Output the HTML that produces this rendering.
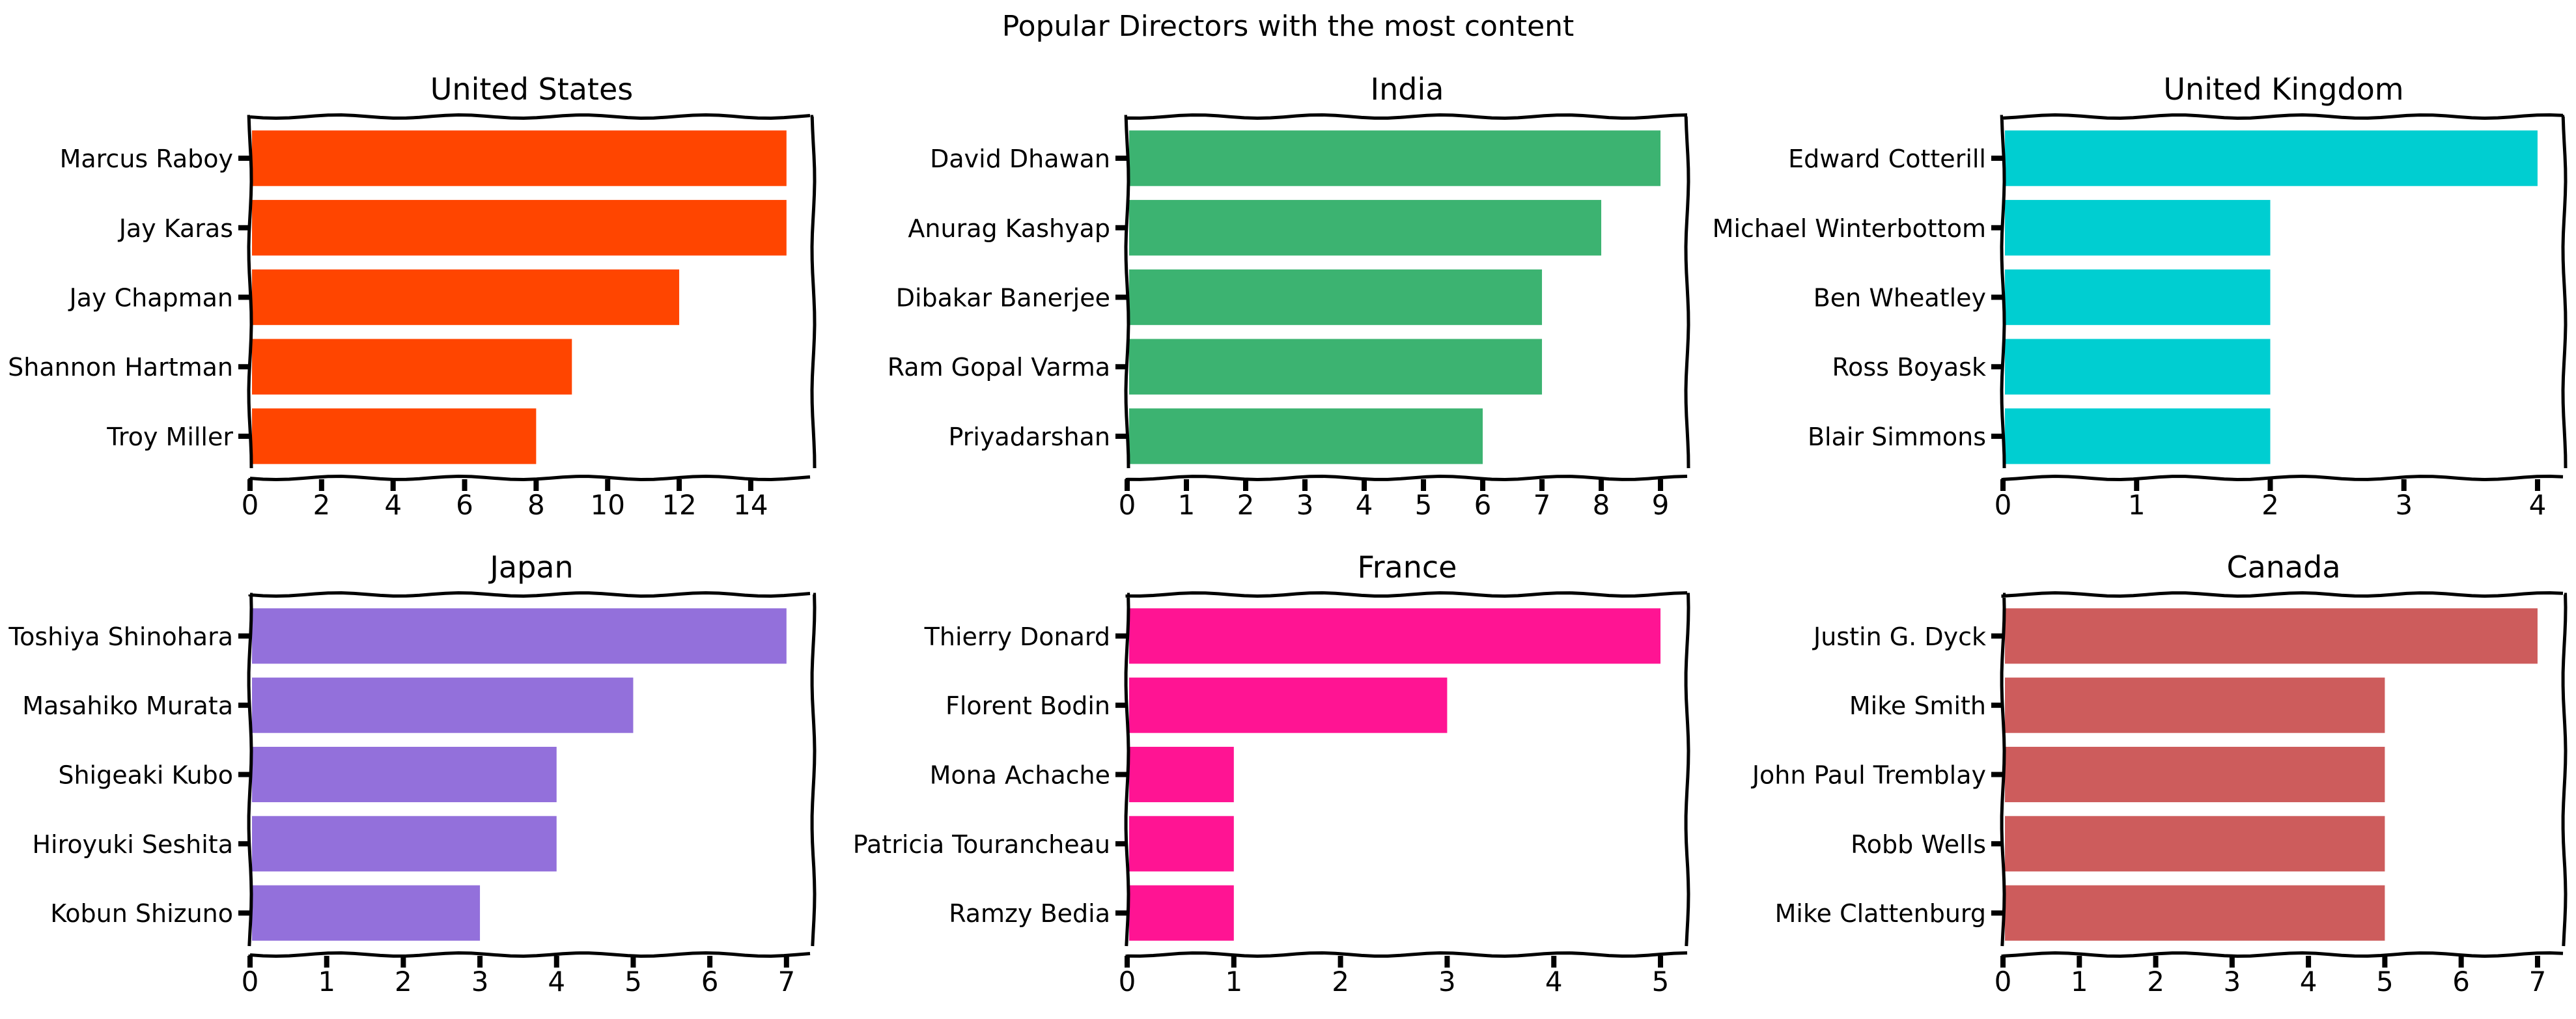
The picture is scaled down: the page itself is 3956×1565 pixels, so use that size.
<!DOCTYPE html>
<html><head><meta charset="utf-8"><style>
body{margin:0;background:#fff;}
svg{display:block;font-family:"DejaVu Sans","Liberation Sans",sans-serif;}
</style></head><body>
<svg id="chart" width="3956" height="1565" viewBox="0 0 3956 1565">
<text x="1978" y="55" text-anchor="middle" font-size="44">Popular Directors with the most content</text>
</svg>
<script>
const titles = ["United States","India","United Kingdom","Japan","France","Canada"];
const colors = ["#FF4500","#3CB371","#00CED1","#9370DB","#FF1493","#CD5C5C"];
const namesUS = ["Marcus Raboy","Jay Karas","Jay Chapman","Shannon Hartman","Troy Miller"];
const valuesUS = [15,15,12,9,8];
const namesIN = ["David Dhawan","Anurag Kashyap","Dibakar Banerjee","Ram Gopal Varma","Priyadarshan"];
const valuesIN = [9,8,7,7,6];
const namesUK = ["Edward Cotterill","Michael Winterbottom","Ben Wheatley","Ross Boyask","Blair Simmons"];
const valuesUK = [4,2,2,2,2];
const namesJP = ["Toshiya Shinohara","Masahiko Murata","Shigeaki Kubo","Hiroyuki Seshita","Kobun Shizuno"];
const valuesJP = [7,5,4,4,3];
const namesFR = ["Thierry Donard","Florent Bodin","Mona Achache","Patricia Tourancheau","Ramzy Bedia"];
const valuesFR = [5,3,1,1,1];
const namesCA = ["Justin G. Dyck","Mike Smith","John Paul Tremblay","Robb Wells","Mike Clattenburg"];
const valuesCA = [7,5,5,5,5];
const tickStepsX = [2,1,1,1,1,1];

const allNames = [namesUS,namesIN,namesUK,namesJP,namesFR,namesCA];
const allValues = [valuesUS,valuesIN,valuesUK,valuesJP,valuesFR,valuesCA];
const colL = [384,1731,3076], colR = [1249,2591,3938];
const rowT = [179,913], rowB = [734,1466];
const svg = document.getElementById('chart');
const NS = "http://www.w3.org/2000/svg";
function mk(tag, attrs, parent){const e=document.createElementNS(NS,tag);for(const k in attrs)e.setAttribute(k,attrs[k]);(parent||svg).appendChild(e);return e;}
function slug(s){return s.toLowerCase().replace(/[^a-z0-9]+/g,'-').replace(/^-|-$/g,'');}
function wavyH(x0,x1,y){let d=`M${x0},${y}`;for(let x=x0;x<=x1;x+=20){d+=` L${x},${(y+2.5*Math.sin(x/30)).toFixed(1)}`;}return d;}
function wavyV(x,y0,y1){let d=`M${x},${y0}`;for(let y=y0;y<=y1;y+=20){d+=` L${(x+2*Math.sin(y/35)).toFixed(1)},${y}`;}return d;}

for(let p=0;p<6;p++){
  const L=colL[p%3], R=colR[p%3], T=rowT[Math.floor(p/3)], B=rowB[Math.floor(p/3)];
  const vals=allValues[p], names=allNames[p];
  const xmax=Math.max(...vals)*1.05;
  const xs=v=>L+(v/xmax)*(R-L);
  const n=vals.length;
  const ymin=-0.6, ymax=n-1+0.6;
  const ys=i=>T+((i-ymin)/(ymax-ymin))*(B-T);
  const g=mk('g',{});
  
  
  const t=mk('text',{x:(L+R)/2,y:T-26,'text-anchor':'middle','font-size':46},g);
  t.textContent=titles[p];
  
  
  for(let i=0;i<n;i++){
    const yc=ys(i), h=0.8*(B-T)/(ymax-ymin);
    const r=mk('rect',{x:xs(0)+3,y:yc-h/2,width:xs(vals[i])-xs(0)-3,height:h,fill:colors[p]},g);
    
    
    mk('line',{x1:L-18,x2:L,y1:yc,y2:yc,stroke:'#000','stroke-width':8},g);
    const lb=mk('text',{x:L-26,y:yc+14,'text-anchor':'end','font-size':38},g);
    lb.textContent=names[i];
    
    
  }
  const step=tickStepsX[p];
  for(let v=0;v<=xmax;v+=step){
    const x=xs(v);
    mk('line',{x1:x,x2:x,y1:B+2,y2:B+20,stroke:'#000','stroke-width':8},g);
    const tl=mk('text',{x:x,y:B+56,'text-anchor':'middle','font-size':42},g);
    tl.textContent=v;
    
    
  }
  const sp=mk('path',{d:wavyH(L,R,T)+' '+wavyH(L,R,B)+' '+wavyV(L,T,B)+' '+wavyV(R,T,B),fill:'none',stroke:'#000','stroke-width':5},g);
  
  
}
</script>
</body></html>
